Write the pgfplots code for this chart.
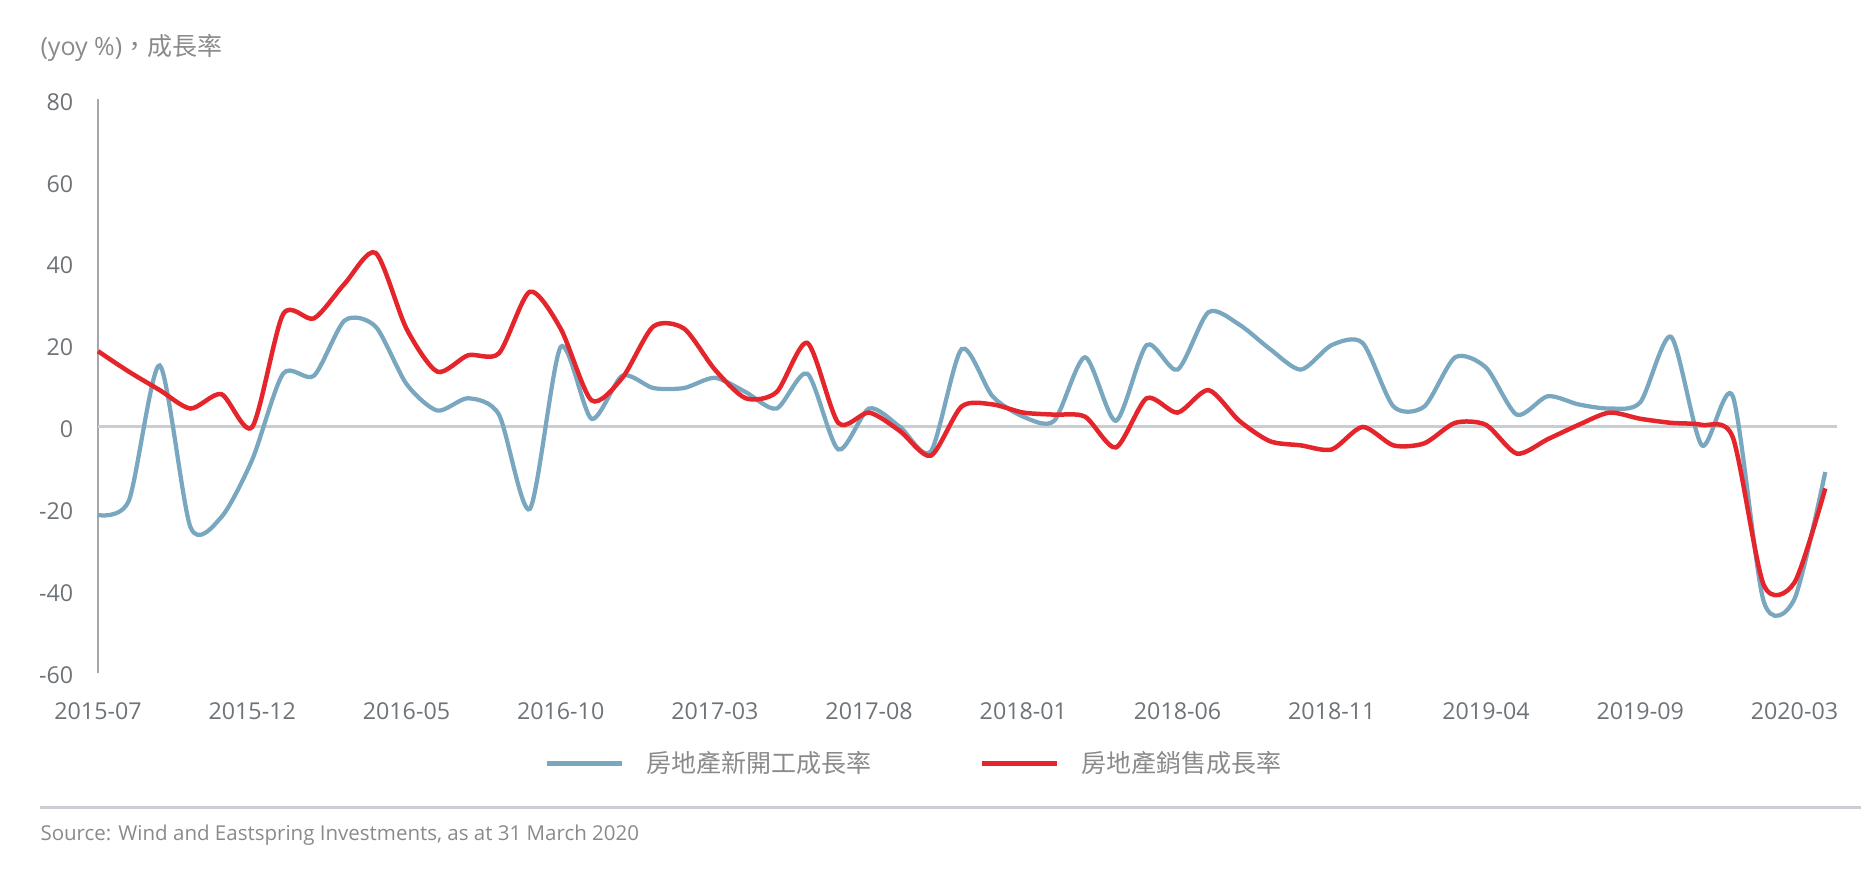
\documentclass[border=0pt]{standalone}
\usepackage{fontspec}
\usepackage{pgfplots}
\usepackage{pgfplotstable}
\pgfplotsset{compat=1.18}
\setmainfont{Open Sans}
\newfontfamily\cjk{Noto Sans CJK TC}
\definecolor{blueline}{HTML}{79A7BF}
\definecolor{redline}{HTML}{E4262C}
\definecolor{ticktext}{HTML}{6E7378}
\definecolor{lighttext}{HTML}{8A8A8A}
\definecolor{zeroline}{HTML}{CACED2}
\definecolor{axisline}{HTML}{A3A8AD}

\pgfplotstableread{
i blue red
0 -21.5 18.5
1 -18 13.5
2 15 9
3 -24.5 4.5
4 -22 8
5 -8 0
6 13 27.5
7 12.5 26.5
8 26 35
9 24.5 42.5
10 10.5 24
11 4 13.5
12 7 17.5
13 3 18
14 -20 33
15 19.5 24
16 2 6.5
17 12.5 12
18 9.5 24.5
19 9.5 24
20 12 14
21 8.5 7
22 4.5 8.5
23 13 20.5
24 -5.5 1
25 4.5 3.5
26 0 -1
27 -6 -7
28 19 5
29 7.5 5.5
30 2.5 3.5
31 1.5 3
32 17 2.5
33 1.5 -5
34 20 7
35 14 3.5
36 28 9
37 25 1.5
38 19 -3.5
39 14 -4.5
40 20 -5.5
41 20.5 0
42 5 -4.5
43 5 -4
44 17 1
45 14.5 0.5
46 3 -6.5
47 7.5 -3
48 5.5 0.5
49 4.5 3.5
50 6 2
51 22 1
52 -4.5 0.5
53 7.5 -2.5
54 -42.5 -38.5
55 -42 -38
56 -11 -15
}\datatable

\begin{document}
\begin{tikzpicture}
\path[use as bounding box] (0,0) rectangle (750.4pt,347.6pt);
\begin{axis}[
  at={(39.2pt,78.52pt)}, anchor=south west,
  scale only axis, width=695.6pt, height=229.36pt,
  xmin=0, xmax=56.38, ymin=-60, ymax=80,
  axis line style={draw=none},
  xtick={0,5,...,55},
  xticklabels={2015-07,2015-12,2016-05,2016-10,2017-03,2017-08,2018-01,2018-06,2018-11,2019-04,2019-09,2020-03},
  ytick={-60,-40,...,80},
  yticklabels={-60,-40,-20,0,20,40,60,80},
  major tick length=0pt,
  tick style={draw=none},
  ticklabel style={font=\fontsize{9.3}{11}\selectfont, text=ticktext, inner sep=0pt},
  xticklabel style={anchor=north, yshift=-11.6pt},
  yticklabel style={anchor=east, xshift=-9.7pt, yshift=-1pt},
  clip=false,
  legend columns=2,
  legend style={at={(0.2565,-0.1592)}, anchor=west, draw=none, fill=none,
    inner sep=0pt, outer sep=0pt,
    font=\cjk\fontsize{10}{12}\selectfont, text=lighttext,
    nodes={inner sep=0pt},
    /tikz/every odd column/.append style={column sep=9pt},
    /tikz/every even column/.append style={column sep=43pt}},
  legend image code/.code={\draw[#1, line width=2pt] (0pt,0pt) -- (30pt,0pt);},
]
\draw[axisline, line width=0.8pt] (axis cs:0,-60) -- (axis cs:0,80);
\draw[zeroline, line width=1.2pt] (axis cs:0,0) -- (axis cs:56.38,0);
\addplot[blueline, line width=1.7pt, smooth, tension=0.45, no markers] table[x=i,y=blue]{\datatable};
\addlegendentry{房地產新開工成長率}
\addplot[redline, line width=1.8pt, smooth, tension=0.45, no markers] table[x=i,y=red]{\datatable};
\addlegendentry{房地產銷售成長率}
\end{axis}
\node[anchor=west, inner sep=0pt, text=lighttext, font=\fontsize{10}{12}\selectfont] at (16pt,328.4pt) {(yoy \%){\cjk ，成長率}};
\draw[zeroline, line width=1.3pt] (16pt,24.6pt) -- (744.4pt,24.6pt);
\node[anchor=west, inner sep=0pt, text=lighttext, font=\fontsize{8.2}{10}\selectfont] at (16pt,13.6pt) {Source: Wind and Eastspring Investments, as at 31 March 2020};
\end{tikzpicture}
\end{document}
